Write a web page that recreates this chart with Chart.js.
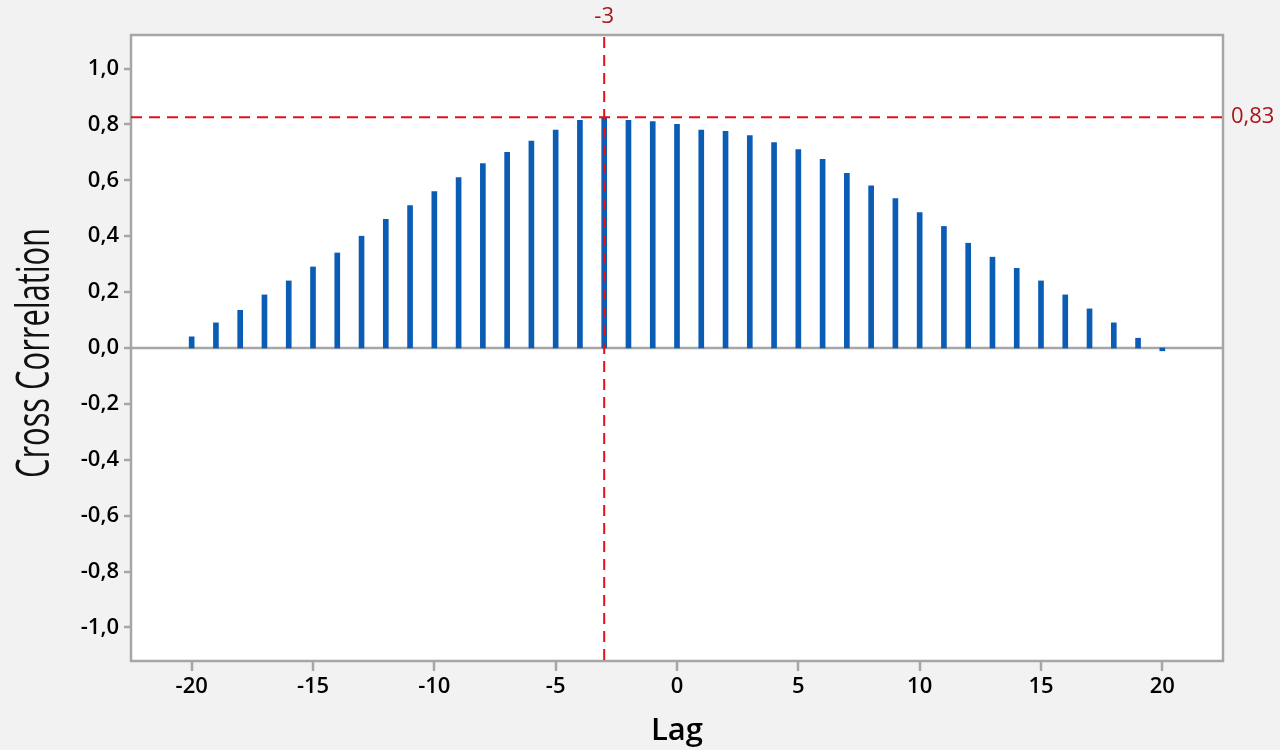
<!DOCTYPE html>
<html>
<head>
<meta charset="utf-8">
<script src="https://cdn.jsdelivr.net/npm/chart.js@4.4.1/dist/chart.umd.min.js"></script>
<style>
  html, body { margin: 0; padding: 0; background: #f2f2f2; }
  #wrap { width: 1280px; height: 750px; }
</style>
</head>
<body>
<div id="wrap"><canvas id="c" width="1280" height="750"></canvas></div>
<script>
// ---- data ----
const lags = [-20,-19,-18,-17,-16,-15,-14,-13,-12,-11,-10,-9,-8,-7,-6,-5,-4,-3,-2,-1,0,1,2,3,4,5,6,7,8,9,10,11,12,13,14,15,16,17,18,19,20];
const crossCorr = [0.04,0.09,0.135,0.19,0.24,0.29,0.34,0.40,0.46,0.51,0.56,0.61,0.66,0.70,0.74,0.78,0.815,0.826,0.815,0.81,0.80,0.78,0.775,0.76,0.735,0.71,0.675,0.625,0.58,0.535,0.485,0.435,0.375,0.325,0.285,0.24,0.19,0.14,0.09,0.035,-0.01];
const xTicks = [-20,-15,-10,-5,0,5,10,15,20];
const yTicks = [-1.0,-0.8,-0.6,-0.4,-0.2,0.0,0.2,0.4,0.6,0.8,1.0];
const refLag = -3;
const refValue = 0.826;
const refLagLabel = "-3";
const refValueLabel = "0,83";
const xTitle = "Lag";
const yTitle = "Cross Correlation";

const FONT = "'Open Sans', 'Noto Sans', sans-serif";
const AXIS_GRAY = '#a6a6a6';
const REF_RED = '#e3101a';
const REF_TEXT = '#a8151c';

const plotPlugin = {
  id: 'plotDecor',
  beforeDraw(chart) {
    const {ctx, chartArea: a} = chart;
    ctx.save();
    ctx.fillStyle = '#ffffff';
    ctx.fillRect(a.left, a.top, a.right - a.left, a.bottom - a.top);
    ctx.restore();
  },
  beforeDatasetsDraw(chart) {
    const {ctx, chartArea: a, scales} = chart;
    const y0 = scales.y.getPixelForValue(0);
    ctx.save();
    ctx.strokeStyle = AXIS_GRAY;
    ctx.lineWidth = 2.5;
    ctx.beginPath();
    ctx.moveTo(a.left, y0);
    ctx.lineTo(a.right, y0);
    ctx.stroke();
    ctx.restore();
  },
  afterDraw(chart) {
    const {ctx, chartArea: a, scales} = chart;
    const xr = scales.x.getPixelForValue(refLag);
    const yr = scales.y.getPixelForValue(refValue);
    ctx.save();
    // frame
    ctx.strokeStyle = AXIS_GRAY;
    ctx.lineWidth = 2.5;
    ctx.strokeRect(a.left, a.top, a.right - a.left, a.bottom - a.top);
    // tick marks (outside the frame)
    ctx.lineWidth = 2.5;
    ctx.beginPath();
    scales.x.ticks.forEach(t => {
      const px = Math.round(scales.x.getPixelForValue(t.value));
      ctx.moveTo(px, a.bottom);
      ctx.lineTo(px, a.bottom + 10);
    });
    scales.y.ticks.forEach(t => {
      const py = Math.round(scales.y.getPixelForValue(t.value));
      ctx.moveTo(a.left, py);
      ctx.lineTo(a.left - 7, py);
    });
    ctx.stroke();
    // reference lines
    ctx.strokeStyle = REF_RED;
    ctx.lineWidth = 2;
    ctx.setLineDash([11, 7]);
    ctx.beginPath();
    ctx.moveTo(a.left, yr);
    ctx.lineTo(a.right, yr);
    ctx.stroke();
    ctx.beginPath();
    ctx.moveTo(xr, a.top + 2);
    ctx.lineTo(xr, a.bottom);
    ctx.stroke();
    ctx.setLineDash([]);
    // reference labels
    ctx.fillStyle = REF_TEXT;
    ctx.font = '500 22px ' + FONT;
    ctx.textBaseline = 'middle';
    ctx.textAlign = 'center';
    ctx.fillText(refLagLabel, xr, a.top - 18);
    ctx.textAlign = 'left';
    ctx.fillText(refValueLabel, a.right + 8, yr);
    // y title (condensed)
    ctx.fillStyle = '#111111';
    ctx.font = '500 46px ' + FONT;
    ctx.textAlign = 'center';
    ctx.textBaseline = 'alphabetic';
    const w = ctx.measureText(yTitle).width;
    ctx.translate(49, (a.top + a.bottom) / 2 + 5);
    ctx.rotate(-Math.PI / 2);
    ctx.scale(250 / w, 1);
    ctx.fillText(yTitle, 0, 0);
    ctx.restore();
  }
};

new Chart(document.getElementById('c'), {
  type: 'bar',
  data: {
    datasets: [{
      data: lags.map((l, i) => ({x: l, y: crossCorr[i]})),
      backgroundColor: '#0b5cb4',
      borderWidth: 0,
      barThickness: 5
    }]
  },
  options: {
    responsive: false,
    animation: false,
    devicePixelRatio: 1,
    layout: { padding: { left: 0, top: 35, right: 57, bottom: 0 } },
    plugins: { legend: { display: false }, tooltip: { enabled: false }, title: { display: false } },
    scales: {
      x: {
        type: 'linear',
        min: -22.5,
        max: 22.5,
        offset: false,
        grid: { display: false, offset: false, drawOnChartArea: false, drawTicks: true, tickLength: 10, color: AXIS_GRAY, lineWidth: 2.5 },
        border: { display: false },
        ticks: { color: '#000000', font: { family: FONT, size: 22, weight: '600' }, padding: 3, maxRotation: 0,
          callback: v => String(v) },
        afterBuildTicks: s => { s.ticks = xTicks.map(v => ({value: v})); },
        afterFit: s => { s.height = 89; },
        title: { display: true, text: xTitle, color: '#000000', font: { family: FONT, size: 31, weight: '600' }, padding: { top: 0, bottom: 0 } }
      },
      y: {
        type: 'linear',
        min: -1.12,
        max: 1.12,
        grid: { display: false, drawOnChartArea: false, drawTicks: true, tickLength: 7, color: AXIS_GRAY, lineWidth: 2.5 },
        border: { display: false },
        ticks: { color: '#000000', font: { family: FONT, size: 22, weight: '600' }, padding: 5,
          callback: v => v.toFixed(1).replace('.', ',') },
        afterBuildTicks: s => { s.ticks = yTicks.map(v => ({value: v})); },
        afterFit: s => { s.width = 131; },
        title: { display: false }
      }
    }
  },
  plugins: [plotPlugin]
});
</script>
</body>
</html>
